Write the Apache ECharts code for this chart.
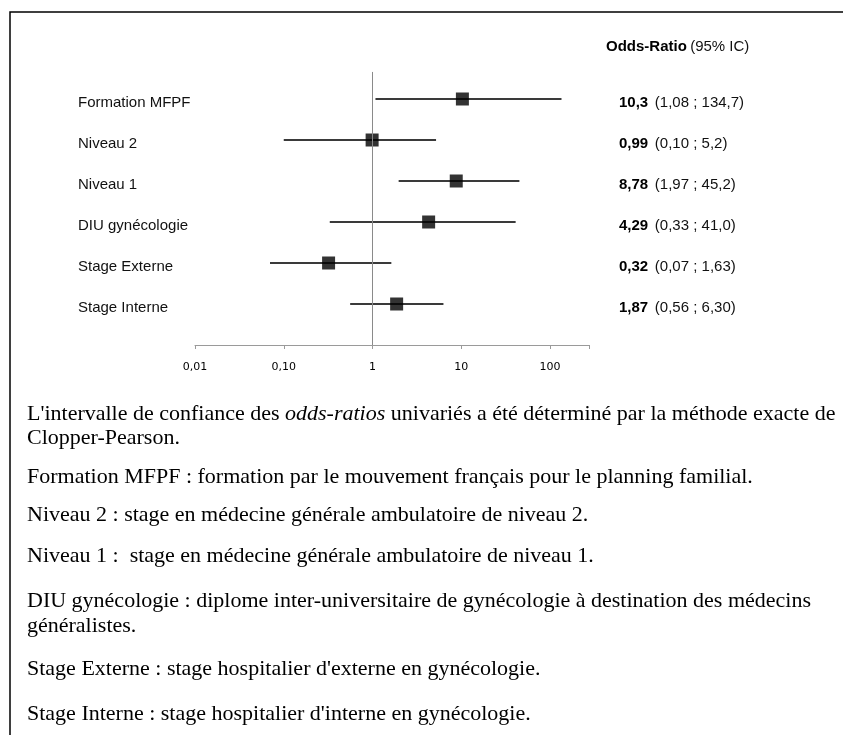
<!DOCTYPE html>
<html>
<head>
<meta charset="utf-8">
<script src="https://cdn.jsdelivr.net/npm/echarts@6/dist/echarts.min.js"></script>
<style>
  html, body { margin: 0; padding: 0; background: #fff; }
  #chart { width: 843px; height: 735px; }
</style>
</head>
<body>
<div id="chart"></div>
<script>
// forest plot data
var categories = ['Formation MFPF', 'Niveau 2', 'Niveau 1', 'DIU gynécologie', 'Stage Externe', 'Stage Interne'];
var orValues = [10.3, 0.99, 8.78, 4.29, 0.32, 1.87];
var ciLow = [1.08, 0.10, 1.97, 0.33, 0.07, 0.56];
var ciHigh = [134.7, 5.2, 45.2, 41.0, 1.63, 6.30];
var orLabels = ['10,3', '0,99', '8,78', '4,29', '0,32', '1,87'];
var ciLabels = ['(1,08 ; 134,7)', '(0,10 ; 5,2)', '(1,97 ; 45,2)', '(0,33 ; 41,0)', '(0,07 ; 1,63)', '(0,56 ; 6,30)'];
var xTicks = [0.01, 0.1, 1, 10, 100];
var xTickLabels = ['0,01', '0,10', '1', '10', '100'];

var notes = [
    ['L\'intervalle de confiance des ', 'odds-ratios', ' univariés a été déterminé par la méthode exacte de'],
    ['Clopper-Pearson.'],
    ['Formation MFPF : formation par le mouvement français pour le planning familial.'],
    ['Niveau 2 : stage en médecine générale ambulatoire de niveau 2.'],
    ['Niveau 1 :  stage en médecine générale ambulatoire de niveau 1.'],
    ['DIU gynécologie : diplome inter-universitaire de gynécologie à destination des médecins'],
    ['généralistes.'],
    ['Stage Externe : stage hospitalier d\'externe en gynécologie.'],
    ['Stage Interne : stage hospitalier d\'interne en gynécologie.']
];
var noteY = [414, 438, 477, 515, 556, 601, 626, 669, 714];

var sans = "'Liberation Sans', Arial, sans-serif";
var serif = "'Liberation Serif', 'Times New Roman', serif";

var myChart = echarts.init(document.getElementById('chart'));

var barData = [];
var pointData = [];
categories.forEach(function (c, i) {
    barData.push([ciLow[i], ciHigh[i], i]);
    pointData.push([orValues[i], i]);
});

var graphics = [
    {
        type: 'polyline',
        shape: { points: [[10, 740], [10, 12], [845, 12]] },
        style: { stroke: '#000', lineWidth: 1.5, fill: null },
        silent: true
    },
    {
        type: 'text',
        x: 606,
        y: 47,
        style: {
            text: '{b|Odds-Ratio} {r|(95% IC)}',
            verticalAlign: 'middle',
            rich: {
                b: { fontFamily: sans, fontSize: 15, fontWeight: 'bold', fill: '#000' },
                r: { fontFamily: sans, fontSize: 15, fill: '#111' }
            }
        }
    }
];

notes.forEach(function (parts, i) {
    var txt = parts.map(function (p, k) {
        return '{' + (k === 1 ? 'i' : 'n') + '|' + p + '}';
    }).join('');
    graphics.push({
        type: 'text',
        x: 27,
        y: noteY[i],
        style: {
            text: txt,
            verticalAlign: 'middle',
            rich: {
                n: { fontFamily: serif, fontSize: 22, fill: '#000' },
                i: { fontFamily: serif, fontSize: 22, fontStyle: 'italic', fill: '#000' }
            }
        }
    });
});

var option = {
    animation: false,
    grid: {
        left: 195,
        right: 254,
        top: 58,
        bottom: 390,
        containLabel: false
    },
    xAxis: {
        type: 'log',
        logBase: 10,
        min: 0.01,
        max: 275,
        axisLine: { onZero: false, lineStyle: { color: '#9a9a9a', width: 1 } },
        axisTick: { show: true, length: 4, lineStyle: { color: '#9a9a9a' } },
        splitLine: { show: false },
        axisLabel: {
            margin: 17,
            fontFamily: 'DejaVu Sans',
            fontSize: 11,
            color: '#000',
            showMaxLabel: true,
            formatter: function (v) {
                for (var k = 0; k < xTicks.length; k++) {
                    if (Math.abs(v - xTicks[k]) / xTicks[k] < 1e-6) return xTickLabels[k];
                }
                return '';
            }
        }
    },
    yAxis: [
        {
            type: 'value',
            inverse: true,
            min: -1,
            max: 6,
            interval: 1,
            axisLine: { show: false, onZero: false },
            axisTick: { show: false },
            splitLine: { show: false },
            axisLabel: {
                align: 'left',
                verticalAlign: 'top',
                lineHeight: 8,
                margin: 117,
                fontFamily: sans,
                fontSize: 15,
                color: '#111',
                formatter: function (v) { return categories[v] || ''; }
            }
        },
        {
            type: 'value',
            position: 'right',
            inverse: true,
            min: -1,
            max: 6,
            interval: 1,
            axisLine: { show: false, onZero: false },
            axisTick: { show: false },
            splitLine: { show: false },
            axisLabel: {
                align: 'left',
                verticalAlign: 'top',
                lineHeight: 8,
                margin: 30,
                formatter: function (v) {
                    if (orLabels[v] === undefined) return '';
                    return '{b|' + orLabels[v] + '}  {r|' + ciLabels[v] + '}';
                },
                rich: {
                    b: { fontFamily: sans, fontSize: 15, fontWeight: 'bold', color: '#000', lineHeight: 8 },
                    r: { fontFamily: sans, fontSize: 15, color: '#111', lineHeight: 8 }
                }
            }
        }
    ],
    series: [
        {
            type: 'custom',
            name: 'IC 95%',
            data: barData,
            encode: { x: [0, 1], y: 2 },
            renderItem: function (params, api) {
                var a = api.coord([api.value(0), api.value(2)]);
                var b = api.coord([api.value(1), api.value(2)]);
                return {
                    type: 'line',
                    shape: { x1: a[0], y1: a[1], x2: b[0], y2: b[1] },
                    style: { stroke: '#3a3a3a', lineWidth: 1.8 }
                };
            },
            z: 2
        },
        {
            type: 'scatter',
            name: 'Odds-Ratio',
            data: pointData,
            symbol: 'rect',
            symbolSize: 13,
            itemStyle: { color: '#000' },
            z: 3,
            markLine: {
                silent: true,
                symbol: 'none',
                label: { show: false },
                lineStyle: { color: '#8a8a8a', width: 1, type: 'solid' },
                data: [[{ coord: [1, -0.66] }, { coord: [1, 6] }]]
            }
        }
    ],
    graphic: graphics
};

myChart.setOption(option);
</script>
</body>
</html>
